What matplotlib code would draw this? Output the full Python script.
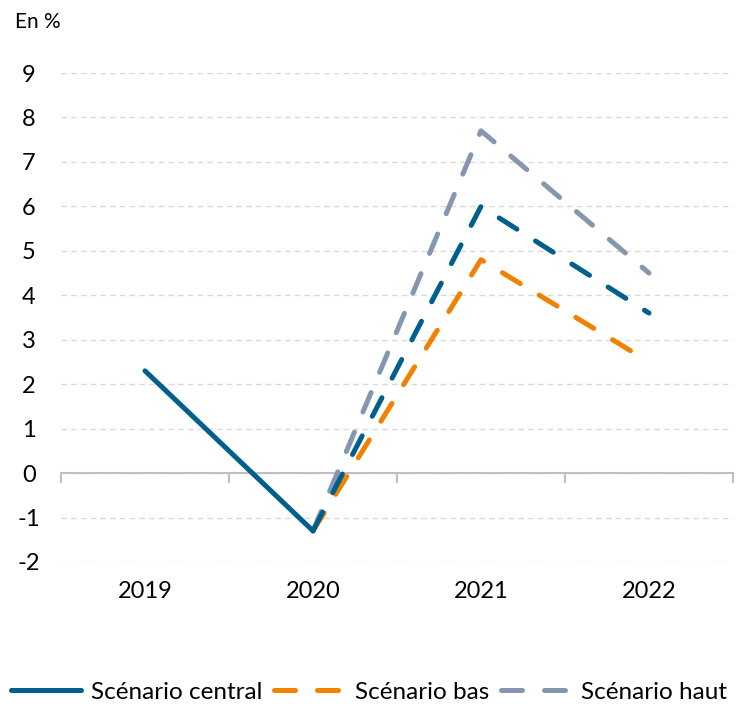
import matplotlib
matplotlib.use("Agg")
import matplotlib.pyplot as plt

years = ["2019", "2020", "2021", "2022"]
central = [2.3, -1.3, None, None]
central_proj = [None, -1.3, 6.0, 3.6]
bas = [None, -1.3, 4.8, 2.5]
haut = [None, -1.3, 7.7, 4.5]

c_central = "#005F8C"
c_bas = "#F08200"
c_haut = "#8597AE"

plt.rcParams["font.family"] = ["Lato", "DejaVu Sans"]
plt.rcParams["axes.unicode_minus"] = False

fig = plt.figure(figsize=(7.38, 7.07), dpi=100)
ax = fig.add_axes([61 / 738, 145 / 707, 672 / 738, 489 / 707])

x = list(range(len(years)))


def pts(vals):
    xs = [i for i, v in zip(x, vals) if v is not None]
    ys = [v for v in vals if v is not None]
    return xs, ys


lw = 3.6
dash = (4.2, 4.4)
ax.plot(*pts(haut), color=c_haut, lw=lw, dashes=dash, dash_capstyle="round",
        label="Scénario haut", zorder=3)
ax.plot(*pts(central_proj), color=c_central, lw=lw, dashes=dash, dash_capstyle="round",
        zorder=4)
ax.plot(*pts(bas), color=c_bas, lw=lw, dashes=dash, dash_capstyle="round",
        label="Scénario bas", zorder=3.5)
ax.plot(*pts(central), color=c_central, lw=lw, solid_capstyle="round",
        label="Scénario central", zorder=5)

ax.set_xlim(-0.5, 3.5)
ax.set_ylim(-2, 9)

# y grid
ax.set_yticks(range(-2, 10))
ax.yaxis.grid(True, color="#D9D9D9", linestyle=(0, (4, 3)), linewidth=1)
ax.tick_params(axis="y", length=0, pad=23, labelsize=17)
for lab in ax.get_yticklabels():
    lab.set_horizontalalignment("center")

# zero line with category separators
ax.spines["bottom"].set_position(("data", 0))
ax.spines["bottom"].set_color("#BFBFBF")
ax.spines["bottom"].set_linewidth(1.5)
for s in ["left", "right", "top"]:
    ax.spines[s].set_visible(False)
ax.set_xticks([i - 0.5 for i in range(len(years) + 1)])
ax.set_xticklabels([])
ax.tick_params(axis="x", direction="out", length=7, width=1.5, color="#BFBFBF")

sec = ax.secondary_xaxis("bottom")
sec.set_xticks(x)
sec.set_xticklabels(years)
sec.tick_params(length=0, pad=14, labelsize=17)
sec.spines["bottom"].set_visible(False)

fig.text(15 / 738, 1 - 22 / 707, "En %", fontsize=15, va="center", ha="left")

h, l = ax.get_legend_handles_labels()
order = [2, 1, 0]
leg = fig.legend([h[i] for i in order], [l[i] for i in order], loc="center",
                 bbox_to_anchor=(0.5, 1 - 692 / 707), ncol=3, frameon=False,
                 fontsize=17.5, handlelength=2.9, handletextpad=0.4,
                 columnspacing=0.5)

fig.savefig("out.png", dpi=100)
